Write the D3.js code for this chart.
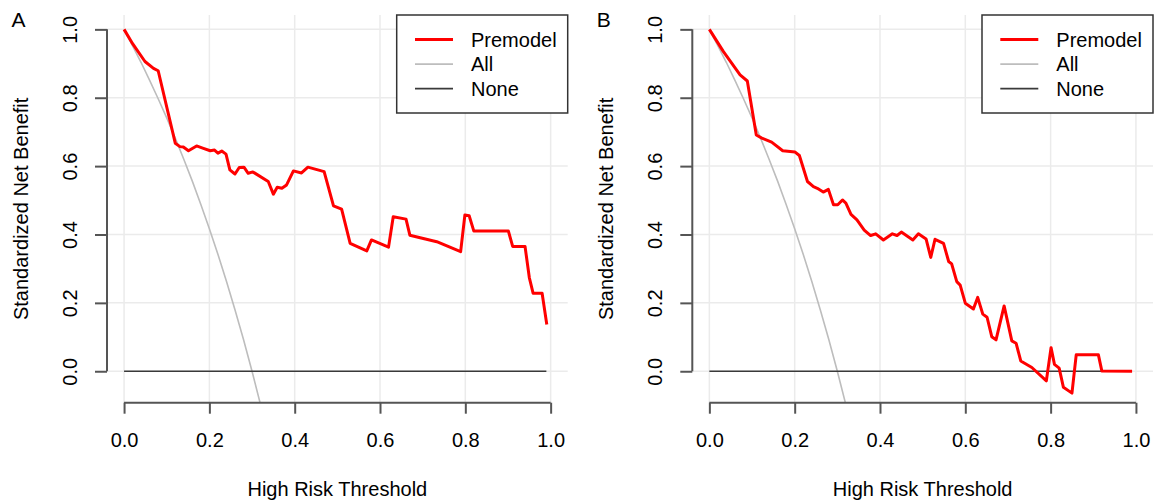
<!DOCTYPE html>
<html>
<head>
<meta charset="utf-8">
<script src="https://cdn.jsdelivr.net/npm/d3@7"></script>
<style>
  body { margin: 0; background: #fff; }
  svg { display: block; font-family: "Liberation Sans", Arial, sans-serif; }
</style>
</head>
<body>
<svg id="dca" width="1154" height="501"></svg>
<script>
let svg = d3.select("#dca");

// ---- data ----
let x_ticks = [0, 0.2, 0.4, 0.6, 0.8, 1.0];
let y_ticks = [0, 0.2, 0.4, 0.6, 0.8, 1.0];
let legend_names = ["Premodel", "All", "None"];
let panel_names = ["A", "B"];

// treat-all curve (same in both panels)
let all_x = [0, 0.02, 0.04, 0.06, 0.08, 0.10, 0.12, 0.14, 0.16, 0.18, 0.20, 0.22, 0.24, 0.26, 0.28, 0.30, 0.32];
let all_y = [1, 0.952, 0.903, 0.851, 0.797, 0.741, 0.682, 0.620, 0.556, 0.488, 0.417, 0.342, 0.263, 0.180, 0.093, 0, -0.098];

// treat-none line
let none_x = [0, 0.99];
let none_y = [0, 0];

let threshold_a = [0, 0.02, 0.049, 0.069, 0.080, 0.120, 0.131, 0.139, 0.151, 0.170, 0.186, 0.202, 0.212, 0.220, 0.229, 0.239,
  0.248, 0.260, 0.270, 0.281, 0.291, 0.302, 0.338, 0.350, 0.359, 0.370, 0.381, 0.397, 0.416, 0.431, 0.469, 0.491, 0.510,
  0.530, 0.569, 0.580, 0.620, 0.631, 0.661, 0.670, 0.733, 0.789, 0.799, 0.809, 0.820, 0.901, 0.911, 0.940, 0.950, 0.959,
  0.980, 0.991];
let premodel_a = [1.0, 0.958, 0.906, 0.886, 0.879, 0.667, 0.657, 0.656, 0.645, 0.659, 0.652, 0.645, 0.647, 0.638, 0.644, 0.635,
  0.589, 0.577, 0.596, 0.597, 0.579, 0.583, 0.555, 0.518, 0.538, 0.535, 0.545, 0.586, 0.580, 0.597, 0.584, 0.484, 0.474,
  0.374, 0.352, 0.384, 0.363, 0.452, 0.445, 0.398, 0.379, 0.350, 0.457, 0.455, 0.410, 0.410, 0.365, 0.365, 0.274, 0.228,
  0.228, 0.137];

let threshold_b = [0, 0.033, 0.072, 0.089, 0.110, 0.123, 0.146, 0.172, 0.201, 0.211, 0.230, 0.244, 0.253, 0.267, 0.279, 0.291,
  0.301, 0.312, 0.320, 0.332, 0.346, 0.363, 0.378, 0.390, 0.408, 0.429, 0.440, 0.450, 0.477, 0.490, 0.508, 0.519, 0.529,
  0.549, 0.561, 0.568, 0.580, 0.588, 0.600, 0.619, 0.629, 0.641, 0.651, 0.662, 0.672, 0.691, 0.709, 0.719, 0.730, 0.756,
  0.790, 0.801, 0.809, 0.820, 0.830, 0.850, 0.860, 0.912, 0.920, 0.991];
let premodel_b = [1.0, 0.935, 0.867, 0.849, 0.691, 0.682, 0.670, 0.645, 0.641, 0.631, 0.555, 0.540, 0.535, 0.524, 0.532, 0.487,
  0.487, 0.501, 0.492, 0.459, 0.443, 0.413, 0.397, 0.402, 0.384, 0.402, 0.397, 0.407, 0.384, 0.402, 0.387, 0.333, 0.386,
  0.374, 0.321, 0.314, 0.262, 0.252, 0.199, 0.182, 0.216, 0.167, 0.158, 0.101, 0.092, 0.191, 0.089, 0.082, 0.030, 0.011,
  -0.028, 0.069, 0.020, 0.009, -0.047, -0.064, 0.048, 0.048, 0.001, 0];

let panels = [
  { name: panel_names[0], x: threshold_a, y: premodel_a, dx: 0 },
  { name: panel_names[1], x: threshold_b, y: premodel_b, dx: 585.3 },
];

// ---- layout (R base-graphics look) ----
let plot_left = 107, plot_right = 567.7;
let plot_top = 15, plot_bottom = 402.7;
let font_size = 20;

let x_scale = d3.scaleLinear()
  .domain([-0.04, 1.04])
  .range([plot_left, plot_right]);
let y_scale = d3.scaleLinear()
  .domain([-0.092, 1.042])
  .range([plot_bottom, plot_top]);

let line = d3.line()
  .x((d) => x_scale(d[0]))
  .y((d) => y_scale(d[1]));

const drawPanel = function(p, idx) {
  let g = svg.append("g")
    .attr("transform", "translate(" + p.dx + ",0)");

  g.append("clipPath")
    .attr("id", "clip" + idx)
    .append("rect")
      .attr("x", plot_left)
      .attr("y", plot_top)
      .attr("width", plot_right - plot_left)
      .attr("height", plot_bottom - plot_top);

  // grid
  g.append("g").selectAll("line")
    .data(x_ticks)
    .enter().append("line")
      .attr("x1", (d) => x_scale(d)).attr("x2", (d) => x_scale(d))
      .attr("y1", plot_top).attr("y2", plot_bottom)
      .attr("stroke", "#ebebeb").attr("stroke-width", 1.5);
  g.append("g").selectAll("line")
    .data(y_ticks)
    .enter().append("line")
      .attr("x1", plot_left).attr("x2", plot_right)
      .attr("y1", (d) => y_scale(d)).attr("y2", (d) => y_scale(d))
      .attr("stroke", "#ebebeb").attr("stroke-width", 1.5);

  let plot = g.append("g").attr("clip-path", "url(#clip" + idx + ")");

  plot.append("path")
    .datum(d3.zip(all_x, all_y))
    .attr("d", line)
    .attr("fill", "none")
    .attr("stroke", "#bdbdbd")
    .attr("stroke-width", 1.6);

  plot.append("path")
    .datum(d3.zip(none_x, none_y))
    .attr("d", line)
    .attr("fill", "none")
    .attr("stroke", "#3a3a3a")
    .attr("stroke-width", 1.6);

  plot.append("path")
    .datum(d3.zip(p.x, p.y))
    .attr("d", line)
    .attr("fill", "none")
    .attr("stroke", "#ff0000")
    .attr("stroke-width", 3)
    .attr("stroke-linejoin", "round");

  // axes
  let x_axis = g.append("g")
    .attr("transform", "translate(0," + plot_bottom + ")")
    .call(d3.axisBottom(x_scale).tickValues(x_ticks).tickFormat(d3.format(".1f")).tickSize(11).tickPadding(19));
  let y_axis = g.append("g")
    .attr("transform", "translate(" + plot_left + ",0)")
    .call(d3.axisLeft(y_scale).tickValues(y_ticks).tickFormat(d3.format(".1f")).tickSize(12));
  [x_axis, y_axis].forEach((a) => {
    a.select(".domain").remove();
    a.selectAll(".tick line").attr("stroke", "#555").attr("stroke-width", 2);
    a.selectAll("text").style("font-size", font_size + "px").style("font-family", "Liberation Sans, Arial, sans-serif").attr("fill", "#000");
  });
  x_axis.append("line")
    .attr("x1", x_scale(0)).attr("x2", x_scale(1))
    .attr("stroke", "#555").attr("stroke-width", 2);
  y_axis.append("line")
    .attr("y1", y_scale(0)).attr("y2", y_scale(1))
    .attr("stroke", "#555").attr("stroke-width", 2);
  // rotated y tick labels like R's las=0
  y_axis.selectAll(".tick text")
    .attr("x", null).attr("dy", null)
    .attr("text-anchor", "middle")
    .attr("transform", "translate(-30.3,0) rotate(-90)");

  // axis titles
  g.append("text")
    .attr("x", (plot_left + plot_right) / 2)
    .attr("y", 496)
    .attr("text-anchor", "middle")
    .style("font-size", font_size + "px")
    .text("High Risk Threshold");
  g.append("text")
    .attr("transform", "translate(28," + ((plot_top + plot_bottom) / 2) + ") rotate(-90)")
    .attr("text-anchor", "middle")
    .style("font-size", font_size + "px")
    .text("Standardized Net Benefit");

  // panel letter
  g.append("text")
    .attr("x", 11.5)
    .attr("y", 26.7)
    .style("font-size", "21px")
    .text(p.name);

  // legend
  let legend = g.append("g");
  legend.append("rect")
    .attr("x", 396.7).attr("y", plot_top)
    .attr("width", plot_right - 396.7).attr("height", 98)
    .attr("fill", "#fff").attr("stroke", "#333").attr("stroke-width", 1.5);
  let legend_colors = ["#ff0000", "#bdbdbd", "#3a3a3a"];
  let legend_widths = [3, 1.8, 1.8];
  let item = legend.selectAll("g.item")
    .data(legend_names)
    .enter().append("g")
      .attr("class", "item")
      .attr("transform", (d, i) => "translate(0," + (39.5 + i * 24.6) + ")");
  item.append("line")
    .attr("x1", 415).attr("x2", 453)
    .attr("stroke", (d, i) => legend_colors[i])
    .attr("stroke-width", (d, i) => legend_widths[i]);
  item.append("text")
    .attr("x", 471).attr("y", 7.3)
    .style("font-size", font_size + "px")
    .text((d) => d);
};

panels.forEach(drawPanel);
</script>
</body>
</html>
